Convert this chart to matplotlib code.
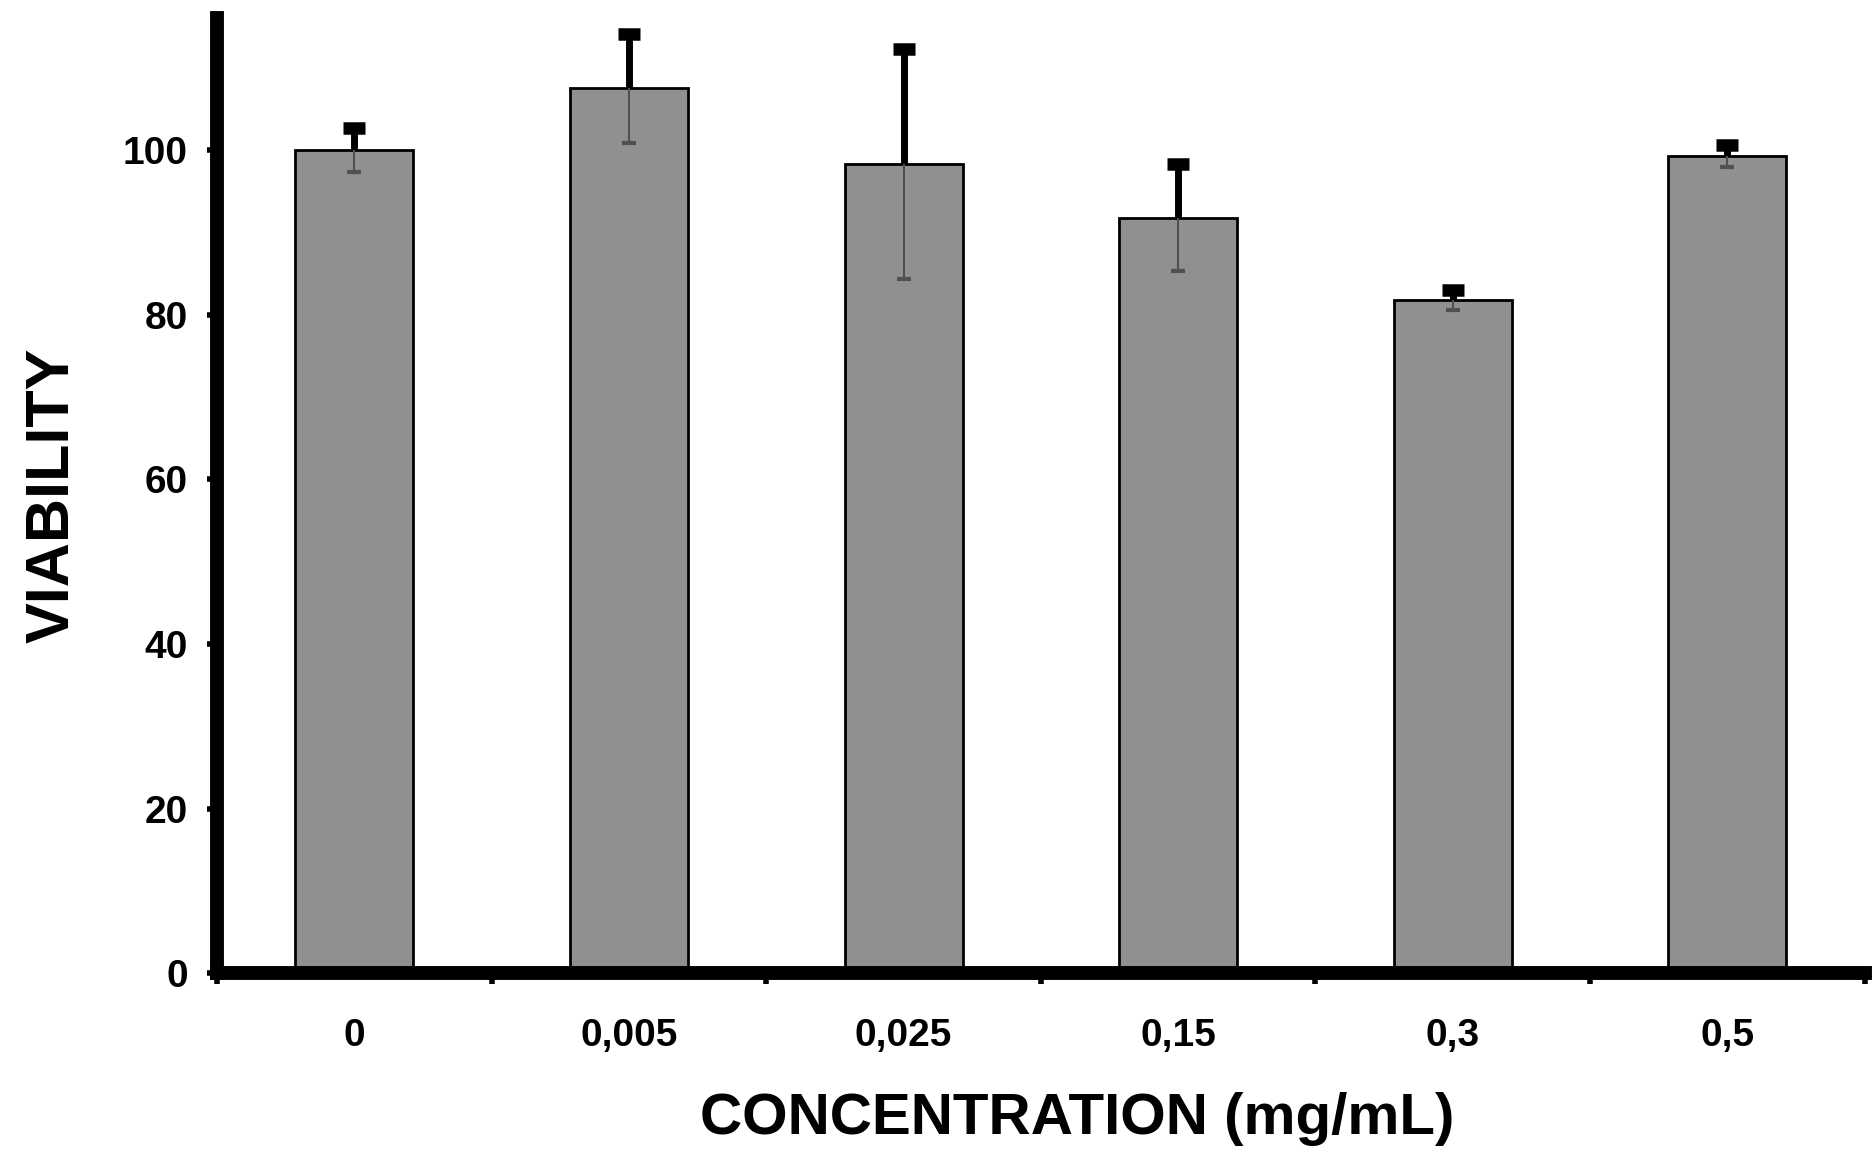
import matplotlib
matplotlib.use('Agg')
import matplotlib.pyplot as plt
import numpy as np

# valeurs
concentrations = ['0', '0,005', '0,025', '0,15', '0,3', '0,5']
viability = [100.0, 107.5, 98.3, 91.8, 81.8, 99.3]
sd = [2.7, 6.6, 14.0, 6.5, 1.2, 1.3]

y_ticks = [0, 20, 40, 60, 80, 100]

plt.rcParams['font.family'] = ['Liberation Sans', 'DejaVu Sans']

fig = plt.figure(figsize=(18.72, 11.53), dpi=100)
ax = fig.add_axes([0.116, 0.156, 0.880, 0.828])

x = np.arange(len(concentrations))
zeros = np.zeros(len(sd))
ax.bar(x, viability, width=0.43, color='#909090', edgecolor='black',
       linewidth=2, zorder=2)

# partie haute de la barre d'erreur : épaisse et noire
_, caps_up, _ = ax.errorbar(x, viability, yerr=[zeros, sd], fmt='none',
                            ecolor='black', elinewidth=5, capsize=8,
                            capthick=9, zorder=3)
caps_up[0].set_visible(False)
# partie basse, fine et grise (dans la barre)
_, caps_low, _ = ax.errorbar(x, viability, yerr=[sd, zeros], fmt='none',
                             ecolor='#505050', elinewidth=1.5, capsize=5,
                             capthick=3, zorder=3)
caps_low[1].set_visible(False)

ax.set_xlim(-0.5, len(concentrations) - 0.5)
ax.set_ylim(0, 116)

for side in ['top', 'right']:
    ax.spines[side].set_visible(False)
ax.spines['left'].set_linewidth(10)
ax.spines['bottom'].set_linewidth(10)
ax.spines['bottom'].set_zorder(4)

ax.set_yticks(y_ticks)
ax.set_yticklabels([str(v) for v in y_ticks], fontsize=28, fontweight='heavy')
ax.tick_params(axis='y', direction='out', length=7, width=4, pad=14)

ax.set_xticks(x)
ax.set_xticklabels(concentrations, fontsize=28, fontweight='heavy')
ax.tick_params(axis='x', which='major', length=0, pad=32)
ax.set_xticks(np.arange(-0.5, len(concentrations), 1.0), minor=True)
ax.tick_params(axis='x', which='minor', direction='out', length=8, width=4)

ax.set_xlabel('CONCENTRATION (mg/mL)', fontsize=42, fontweight='heavy')
ax.xaxis.set_label_coords(0.522, -0.125)
ax.set_ylabel('VIABILITY', fontsize=44, fontweight='heavy', labelpad=30)

fig.savefig('out.png', dpi=100)
